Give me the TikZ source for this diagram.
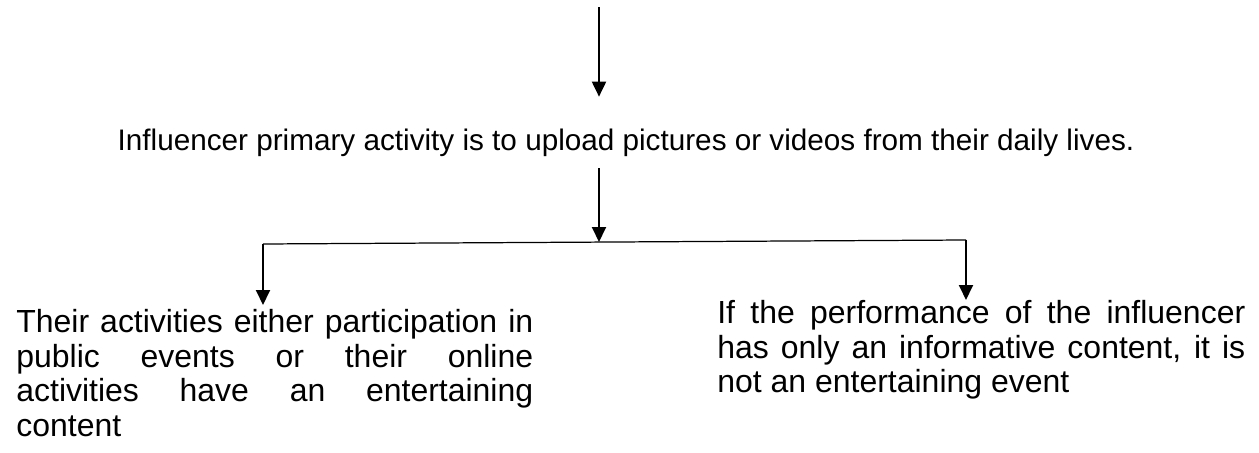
\documentclass[tikz,border=0pt]{standalone}
\usepackage{fontspec}
\setmainfont{Liberation Sans}
\usepackage{tikz}
\usetikzlibrary{arrows.meta}

% word-processor style justification: no hyphens, spaces never shrink
\newcommand{\wordjustify}{\hyphenpenalty=10000\exhyphenpenalty=10000
  \tolerance=10000\spaceskip=\fontdimen2\font plus 20em minus 0pt}

\begin{document}
\begin{tikzpicture}[x=0.02cm,y=-0.02cm,
    flow/.style={-{Triangle[length=0.3cm,width=0.28cm]},line width=1.1pt},
    note/.style={inner sep=0pt,font=\fontsize{16.9}{19.3}\selectfont},
    branch/.style={inner sep=0pt,font=\fontsize{18.2}{19.7}\selectfont,
      anchor=north west,align=justify,execute at begin node=\wordjustify}]
  \useasboundingbox (0,0) rectangle (1259,453);
  % Main statement
  \node[note,anchor=base,text height=1.06cm,text depth=0.36cm] (main) at (626,150)
    {Influencer primary activity is to upload pictures or videos from their daily lives.};
  % Two outcomes
  \node[branch,text width=10.34cm,inner ysep=0.08cm] (fun) at (16,305)
    {Their activities either participation in public events or their online activities have an entertaining content};
  \node[branch,text width=10.56cm] (info) at (717,300)
    {If the performance of the influencer has only an informative content, it is not an entertaining event};
  % Split points
  \coordinate (src) at (599,7);
  \coordinate (mid) at (599,242);
  \coordinate (lc) at (263,244);
  \coordinate (rc) at (966,240);
  % Arrows
  \draw[flow] (src) -- (src |- main.north);
  \draw[flow] (main.south -| mid) -- (mid);
  \draw[line width=0.7pt] (lc) -- (rc);
  \draw[flow] (lc) -- (lc |- fun.north);
  \draw[flow] (rc) -- (rc |- info.north);
\end{tikzpicture}
\end{document}
